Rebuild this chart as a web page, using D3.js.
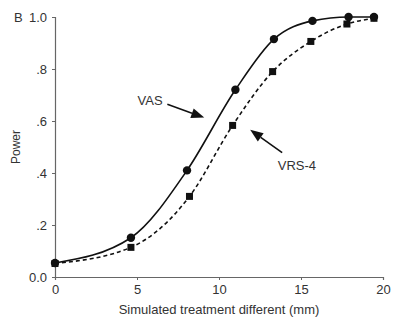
<!DOCTYPE html>
<html>
<head>
<meta charset="utf-8">
<script src="https://cdn.jsdelivr.net/npm/d3@7"></script>
<style>
  body { margin: 0; background: #fff; }
  svg { font-family: "Liberation Sans", Arial, sans-serif; }
</style>
</head>
<body>
<svg id="chart" width="399" height="323"></svg>
<script>
// data
let xVas = [0, 4.63, 8.05, 11.0, 13.35, 15.7, 17.9, 19.45];
let yVas = [0.054, 0.151, 0.41, 0.72, 0.915, 0.985, 1.0, 1.0];
let xVrs = [0, 4.63, 8.2, 10.83, 13.27, 15.6, 17.8, 19.45];
let yVrs = [0.052, 0.114, 0.31, 0.583, 0.79, 0.906, 0.973, 0.995];
let xTicks = [0, 5, 10, 15, 20];
let yTicks = [0, 0.2, 0.4, 0.6, 0.8, 1.0];
let yTickLabels = ["0.0", ".2", ".4", ".6", ".8", "1.0"];

let svg = d3.select("#chart");
let x = d3.scaleLinear().domain([0, 20]).range([55, 383]);
let y = d3.scaleLinear().domain([0, 1]).range([277, 17]);

let textCol = "#333";
let axisCol = "#666";
let fs = "13px";

// axes
let xAxis = svg.append("g")
    .attr("transform", "translate(0," + y(0) + ")")
    .call(d3.axisBottom(x).tickValues(xTicks).tickSize(3).tickPadding(5));
let yAxis = svg.append("g")
    .attr("transform", "translate(" + x(0) + ",0)")
    .call(d3.axisLeft(y).tickValues(yTicks).tickSize(3).tickPadding(5)
        .tickFormat(function (d, i) { return yTickLabels[i]; }));

[xAxis, yAxis].forEach(function (a) {
    a.select(".domain").attr("stroke", axisCol).attr("stroke-width", 1.2);
    a.selectAll(".tick line").attr("stroke", axisCol);
    a.selectAll("text").attr("fill", textCol).style("font-size", fs);
});

// axis titles
svg.append("text")
    .attr("x", x(10)).attr("y", 314)
    .attr("text-anchor", "middle")
    .attr("fill", textCol).style("font-size", fs)
    .text("Simulated treatment different (mm)");

svg.append("text")
    .attr("transform", "translate(20," + y(0.5) + ") rotate(-90)")
    .attr("text-anchor", "middle")
    .attr("fill", textCol).style("font-size", "12px")
    .text("Power");

svg.append("text")
    .attr("x", 14).attr("y", 22)
    .attr("fill", textCol).style("font-size", fs)
    .text("B");

// curves
let line = d3.line()
    .x(function (d) { return x(d[0]); })
    .y(function (d) { return y(d[1]); })
    .curve(d3.curveMonotoneX);

let vas = xVas.map(function (v, i) { return [v, yVas[i]]; });
let vrs = xVrs.map(function (v, i) { return [v, yVrs[i]]; });

svg.append("path")
    .datum(vrs)
    .attr("d", line)
    .attr("fill", "none")
    .attr("stroke", "#111")
    .attr("stroke-width", 1.6)
    .attr("stroke-dasharray", "4,3");

svg.append("path")
    .datum(vas)
    .attr("d", line)
    .attr("fill", "none")
    .attr("stroke", "#111")
    .attr("stroke-width", 1.6);

svg.append("g").selectAll("rect")
    .data(vrs)
    .enter().append("rect")
    .attr("x", function (d) { return x(d[0]) - 3.5; })
    .attr("y", function (d) { return y(d[1]) - 3.5; })
    .attr("width", 7).attr("height", 7)
    .attr("fill", "#111");

svg.append("g").selectAll("circle")
    .data(vas)
    .enter().append("circle")
    .attr("cx", function (d) { return x(d[0]); })
    .attr("cy", function (d) { return y(d[1]); })
    .attr("r", 4.2)
    .attr("fill", "#111");

// annotations (data units)
let notes = [
    { label: "VAS", lx: 5.8, ly: 0.66, from: [6.85, 0.664], to: [9.1, 0.613] },
    { label: "VRS-4", lx: 14.75, ly: 0.41, from: [13.85, 0.478], to: [11.9, 0.566] }
];

notes.forEach(function (n) {
    svg.append("text")
        .attr("x", x(n.lx)).attr("y", y(n.ly))
        .attr("text-anchor", "middle")
        .attr("fill", textCol).style("font-size", fs)
        .text(n.label);

    let x1 = x(n.from[0]), y1 = y(n.from[1]);
    let x2 = x(n.to[0]), y2 = y(n.to[1]);
    let ang = Math.atan2(y2 - y1, x2 - x1);
    let hl = 13, hw = 5;
    let bx = x2 - hl * Math.cos(ang), by = y2 - hl * Math.sin(ang);

    svg.append("line")
        .attr("x1", x1).attr("y1", y1)
        .attr("x2", bx).attr("y2", by)
        .attr("stroke", "#111").attr("stroke-width", 1.6);

    let px = -Math.sin(ang) * hw, py = Math.cos(ang) * hw;
    svg.append("path")
        .attr("d", "M" + x2 + "," + y2 +
            "L" + (bx + px) + "," + (by + py) +
            "L" + (bx - px) + "," + (by - py) + "Z")
        .attr("fill", "#111");
});
</script>
</body>
</html>
